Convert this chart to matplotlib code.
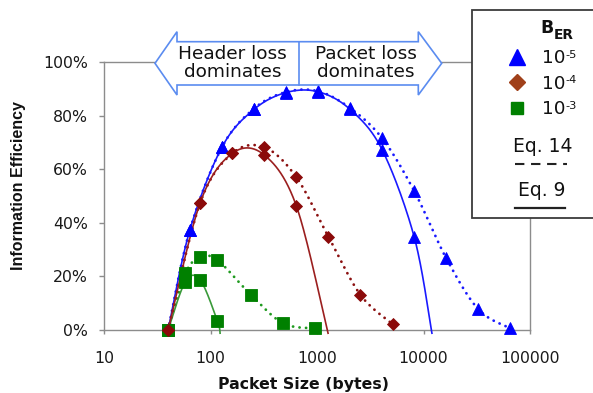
import numpy as np
import matplotlib
matplotlib.use("Agg")
import matplotlib.pyplot as plt
from matplotlib.patches import Polygon, Rectangle
from matplotlib.ticker import NullLocator, FixedLocator, FixedFormatter

# ---------------- data ----------------
# B_ER = 1e-5 (blue triangles)
blue_x_eq9 = [40, 64, 128, 256, 512, 1024, 2048, 4096, 8192]
blue_y_eq9 = [0.0, 0.373, 0.682, 0.823, 0.886, 0.889, 0.823, 0.672, 0.346]
blue_exit_eq9 = (12000, -0.012)          # where the Eq. 9 curve leaves the plot
blue_x_eq14 = [40, 64, 128, 256, 512, 1024, 2048, 4096, 8192, 16384, 32768, 65536]
blue_y_eq14 = [0.0, 0.373, 0.682, 0.826, 0.888, 0.891, 0.828, 0.715, 0.518, 0.267, 0.077, 0.006]
blue_first_marker = 1                    # no visible triangle at 40 bytes

# B_ER = 1e-4 (red diamonds)
red_x_eq9 = [40, 80, 160, 320, 640]
red_y_eq9 = [0.0, 0.475, 0.659, 0.653, 0.463]
red_exit_eq9 = (1270, -0.012)
red_x_eq14 = [40, 80, 160, 320, 640, 1280, 2560, 5120]
red_y_eq14 = [0.0, 0.475, 0.659, 0.682, 0.570, 0.348, 0.131, 0.022]
red_first_marker = 0

# B_ER = 1e-3 (green squares)
green_x_eq9 = [40, 58, 80, 116]
green_y_eq9 = [0.0, 0.180, 0.187, 0.034]
green_exit_eq9 = (123, -0.012)
green_x_eq14 = [40, 58, 80, 116, 240, 480, 960]
green_y_eq14 = [0.0, 0.211, 0.271, 0.261, 0.131, 0.025, 0.006]
green_first_marker = 0

x_ticks = [10, 100, 1000, 10000, 100000]
x_tick_labels = ["10", "100", "1000", "10000", "100000"]
y_ticks = [0.0, 0.2, 0.4, 0.6, 0.8, 1.0]
y_tick_labels = ["0%", "20%", "40%", "60%", "80%", "100%"]

legend_title = "B"
legend_title_sub = "ER"
legend_exps = ["-5", "-4", "-3"]
arrow_left_text = "Header loss\ndominates"
arrow_right_text = "Packet loss\ndominates"

# ---------------- helpers ----------------
def smooth(xs, ys, n=40):
    """Catmull-Rom smoothing in (log10 x, y) space (like Excel smoothed lines)."""
    P = np.column_stack([np.log10(xs), np.asarray(ys, float)])
    P = np.vstack([P[0], P, P[-1]])
    t = np.linspace(0, 1, n)[:, None]
    segs = []
    for i in range(1, len(P) - 2):
        p0, p1, p2, p3 = P[i - 1], P[i], P[i + 1], P[i + 2]
        seg = 0.5 * (2 * p1 + (-p0 + p2) * t + (2 * p0 - 5 * p1 + 4 * p2 - p3) * t ** 2
                     + (-p0 + 3 * p1 - 3 * p2 + p3) * t ** 3)
        segs.append(seg if i == 1 else seg[1:])
    S = np.vstack(segs)
    return 10 ** S[:, 0], S[:, 1]

W, H = 593, 393
fig = plt.figure(figsize=(W / 100, H / 100), dpi=100)
fig.patch.set_facecolor("white")

L, R, T, B = 104, 530, 62, 330
ax = fig.add_axes([L / W, 1 - B / H, (R - L) / W, (B - T) / H])
ax.set_xscale("log")
ax.set_xlim(10, 1e5)
ax.set_ylim(0, 1)

for s in ax.spines.values():
    s.set_color("#8c8c8c")
    s.set_linewidth(1.0)

ax.xaxis.set_major_locator(FixedLocator(x_ticks))
ax.xaxis.set_major_formatter(FixedFormatter(x_tick_labels))
ax.xaxis.set_minor_locator(NullLocator())
ax.yaxis.set_major_locator(FixedLocator(y_ticks))
ax.yaxis.set_major_formatter(FixedFormatter(y_tick_labels))
ax.tick_params(axis="x", length=3, width=1, color="#8c8c8c", pad=12.3,
               labelsize=11.3, labelcolor="#1a1a1a")
ax.tick_params(axis="y", length=3.6, width=1, color="#8c8c8c", pad=8,
               labelsize=11.3, labelcolor="#1a1a1a")

ax.set_xlabel("Packet Size (bytes)", fontsize=11.3, fontweight="bold", color="#111111")
ax.xaxis.set_label_coords((303 - L) / (R - L), (B - 377.5) / (B - T))
ax.xaxis.label.set_verticalalignment("top")
ax.set_ylabel("Information Efficiency", fontsize=11.5, fontweight="bold",
              family="Liberation Sans", color="#111111")
ax.yaxis.set_label_coords((26 - L) / (R - L), (B - 186) / (B - T))

series = [
    (green_x_eq9, green_y_eq9, green_exit_eq9, green_x_eq14, green_y_eq14, green_first_marker,
     "#3a9a3a", "#1f9a1f", "#008000", "s", 8.2, 4.0),
    (blue_x_eq9, blue_y_eq9, blue_exit_eq9, blue_x_eq14, blue_y_eq14, blue_first_marker,
     "#1a1aff", "#1a1aff", "#0000ff", "^", 8.6, 4.1),
    (red_x_eq9, red_y_eq9, red_exit_eq9, red_x_eq14, red_y_eq14, red_first_marker,
     "#9b1f1f", "#8b1010", "#8b0a0a", "D", 6.6, 4.2),
]

for (x9, y9, ex9, x14, y14, k0, c_solid, c_dot, c_mark, mk, ms, zm) in series:
    # Eq. 14 (dotted)
    sx, sy = smooth(x14, y14)
    ax.plot(sx, sy, color=c_dot, lw=2.0, linestyle=(0, (0.05, 2.3)),
            dash_capstyle="round", zorder=3, clip_on=False)
    # Eq. 9 (solid) continuing to where it exits the plot
    sx, sy = smooth(list(x9) + [ex9[0]], list(y9) + [ex9[1]])
    ax.plot(sx, sy, color=c_solid, lw=1.2, zorder=3, clip_on=False)
    # markers
    ax.plot(x14[k0:], y14[k0:], ls="none", marker=mk, ms=ms, color=c_mark,
            mec=c_mark, mew=0.6, zorder=zm, clip_on=False)
    ax.plot(x9[k0:], y9[k0:], ls="none", marker=mk, ms=ms, color=c_mark,
            mec=c_mark, mew=0.6, zorder=zm, clip_on=False)

# ---------------- overlay in pixel coordinates ----------------
ov = fig.add_axes([0, 0, 1, 1], zorder=10)
ov.set_xlim(0, W)
ov.set_ylim(H, 0)
ov.axis("off")
ov.patch.set_alpha(0)

# double-headed block arrow
cy = 63.3
arrow_pts = [(155, cy), (177, 31.7), (177, 41.7), (418.3, 41.7), (418.3, 31.7),
             (441.7, cy), (418.3, 95), (418.3, 85), (177, 85), (177, 95)]
ov.add_patch(Polygon(arrow_pts, closed=True, facecolor="white",
                     edgecolor="#5b8cf0", lw=1.2, joinstyle="miter"))
ov.plot([299.3, 299.3], [41.7, 85], color="#5b8cf0", lw=1.2)
ov.text(232.5, 63, arrow_left_text, ha="center", va="center", fontsize=13.3,
        linespacing=0.98, color="#111111")
ov.text(365.5, 63, arrow_right_text, ha="center", va="center", fontsize=13.3,
        linespacing=0.98, color="#111111")

# legend box
ov.add_patch(Rectangle((472, 10), 140, 208, facecolor="white",
                       edgecolor="#3c3c3c", lw=1.3, clip_on=False))
ov.text(540, 33, legend_title, ha="left", va="baseline", fontsize=12.5,
        fontweight="bold", color="#111111")
ov.text(553.5, 39, legend_title_sub, ha="left", va="baseline", fontsize=9.9,
        fontweight="bold", color="#111111")

leg_rows = [(56.7, "^", "#0000ff", 12.0), (82.0, "D", "#a0401a", 8.3),
            (107.5, "s", "#008000", 9.0)]
for (yy, mk, col, ms), ex in zip(leg_rows, legend_exps):
    ov.plot([516.7], [yy], ls="none", marker=mk, ms=ms, color=col, mec=col)
    ov.text(541.7, yy + 6.6, "10", ha="left", va="baseline", fontsize=13.2,
            color="#111111")
    ov.text(565.2, yy - 6.7, ex, ha="left", va="top", fontsize=8.2, color="#111111")

ov.text(543, 146, "Eq. 14", ha="center", va="center", fontsize=13.5, color="#111111")
ov.plot([515, 567], [164, 164], color="#222222", lw=1.5, linestyle=(0, (4.5, 3.2)))
ov.text(542, 190, "Eq. 9", ha="center", va="center", fontsize=13.5, color="#111111")
ov.plot([515, 565], [208, 208], color="#222222", lw=1.6)

fig.savefig("out.png", dpi=100, facecolor="white")
